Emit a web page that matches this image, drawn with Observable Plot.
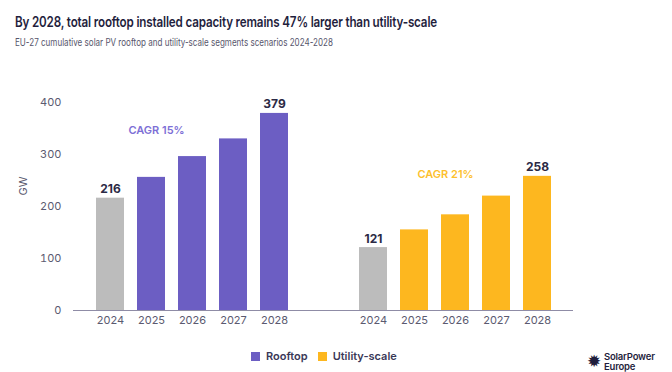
<!DOCTYPE html>
<html>
<head>
<meta charset="utf-8">
<script src="https://cdn.jsdelivr.net/npm/d3@7"></script>
<script src="https://cdn.jsdelivr.net/npm/@observablehq/plot@0.6"></script>
<style>
  html, body { margin: 0; padding: 0; background: #fff; }
  body { width: 672px; height: 372px; position: relative; overflow: hidden; font-family: Inter, "Noto Sans", sans-serif; }
  #title { position: absolute; left: 15px; top: 15px; font-size: 14.5px; font-weight: 600; line-height: 1; color: #1f1e3d; letter-spacing: -0.2px; white-space: nowrap; transform-origin: 0 0; }
  #subtitle { position: absolute; left: 15px; top: 38px; font-size: 10.5px; font-weight: 400; line-height: 1; color: #56556b; white-space: nowrap; transform-origin: 0 0; }
  #chart { position: absolute; left: 0; top: 60px; }
  #legend { position: absolute; left: 251px; top: 351px; display: flex; align-items: center; font-size: 11px; font-weight: 600; color: #3a3858; line-height: 1; }
  #legend .sw { width: 9px; height: 9px; display: inline-block; margin-right: 6px; }
  #legend .item { display: flex; align-items: center; margin-right: 10px; }
  #logo { position: absolute; left: 587px; top: 352px; display: flex; align-items: center; color: #1f1e3d; }
  #logo .sun { font-size: 17px; line-height: 1; margin-right: 3px; }
  #logo .txt { font-size: 9.5px; font-weight: 600; line-height: 1; letter-spacing: -0.2px; }
</style>
</head>
<body>
<div id="title">By 2028, total rooftop installed capacity remains 47% larger than utility-scale</div>
<div id="subtitle">EU-27 cumulative solar PV rooftop and utility-scale segments scenarios 2024-2028</div>
<div id="chart"></div>
<div id="legend"></div>
<div id="logo"><span class="sun">✹</span><span class="txt">SolarPower<br>Europe</span></div>
<script>
// ---- data ----
const years = ["2024", "2025", "2026", "2027", "2028"];
const segments = ["Rooftop", "Utility-scale"];
const rooftop = [216, 256, 296, 330, 379];
const utility = [121, 155, 184, 220, 258];
const cagr = ["CAGR 15%", "CAGR 21%"];
const yTicks = [0, 100, 200, 300, 400];

// ---- styling ----
const segColors = {"Rooftop": "#6c5ec3", "Utility-scale": "#fdb71f"};
const cagrColors = {"Rooftop": "#7d6fd6", "Utility-scale": "#fdbf2d"};
const actualColor = "#bcbcbc";

// fit the narrow header font of the original
function fitWidth(id, target) {
  const el = document.getElementById(id);
  const w = el.getBoundingClientRect().width;
  el.style.transform = `scaleX(${target / w})`;
}
fitWidth("title", 422);
fitWidth("subtitle", 318);

const rows = [];
years.forEach((yr, i) => {
  rows.push({segment: "Rooftop", year: yr, value: rooftop[i]});
  rows.push({segment: "Utility-scale", year: yr, value: utility[i]});
});
const ends = rows.filter(d => d.year === years[0] || d.year === years[years.length - 1]);

const chart = Plot.plot({
  width: 672,
  height: 276,
  marginLeft: 73,
  marginRight: 99,
  marginTop: 42,
  marginBottom: 26,
  style: {fontFamily: "Inter, 'Noto Sans', sans-serif", fontSize: "11px", color: "#5b5a70", background: "transparent"},
  fx: {domain: segments, paddingInner: 0.1, paddingOuter: 0, axis: null, label: null},
  x: {domain: years, paddingInner: 0.325, paddingOuter: 0.51, tickSize: 0, tickPadding: 6, label: null},
  y: {domain: [0, 400], ticks: yTicks, tickSize: 0, tickPadding: 12, label: null},
  color: {type: "identity"},
  marks: [
    Plot.barY(rows, {
      fx: "segment", x: "year", y: "value",
      fill: d => d.year === years[0] ? actualColor : segColors[d.segment]
    }),
    Plot.ruleY([{segment: "Rooftop", v: 0}], {fx: "segment", y: "v", stroke: "#8f8ca6", strokeWidth: 1, insetRight: -27}),
    Plot.ruleY([{segment: "Utility-scale", v: 0}], {fx: "segment", y: "v", stroke: "#8f8ca6", strokeWidth: 1}),
    Plot.text(ends, {
      fx: "segment", x: "year", y: "value", text: d => String(d.value),
      lineAnchor: "bottom", dy: -5, fontSize: 12, fontWeight: 700, fill: "#2b2a45"
    }),
    Plot.text([{segment: "Rooftop", year: "2025", v: 346, t: cagr[0]}], {
      fx: "segment", x: "year", y: "v", text: "t", dx: 5,
      fill: cagrColors["Rooftop"], fontSize: 11, fontWeight: 600
    }),
    Plot.text([{segment: "Utility-scale", year: "2026", v: 261, t: cagr[1]}], {
      fx: "segment", x: "year", y: "v", text: "t", dx: -10,
      fill: cagrColors["Utility-scale"], fontSize: 11, fontWeight: 600
    }),
    Plot.text([{segment: "Rooftop", t: "GW"}], {
      fx: "segment", frameAnchor: "left", text: "t", rotate: -90, dx: -50, dy: -11,
      fill: "#5b5a70", fontSize: 11
    })
  ]
});
document.getElementById("chart").appendChild(chart);

const legend = document.getElementById("legend");
segments.forEach(s => {
  const item = document.createElement("div");
  item.className = "item";
  item.innerHTML = `<span class="sw" style="background:${segColors[s]}"></span><span>${s}</span>`;
  legend.appendChild(item);
});
</script>
</body>
</html>
